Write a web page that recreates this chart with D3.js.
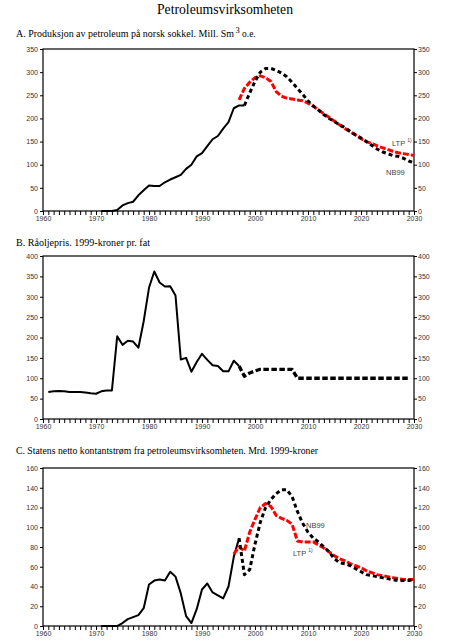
<!DOCTYPE html>
<html>
<head>
<meta charset="utf-8">
<script src="https://cdn.jsdelivr.net/npm/d3@7"></script>
<style>
  body { margin: 0; background: #fff; }
  .tick text { font-family: "Liberation Sans", Arial, sans-serif; font-size: 7px; fill: #333; }
  .ttl { font-family: "Liberation Serif", "Times New Roman", serif; fill: #000; }
  .lbl { font-family: "Liberation Sans", Arial, sans-serif; font-size: 7.5px; fill: #444; }
</style>
</head>
<body>
<svg id="chart" width="462" height="640"></svg>
<script>
// A: produksjon, mill. Sm3 o.e.
var prodYears = d3.range(1971, 1999);
var prodHist = [0, 0, 0, 2, 12, 17, 20, 34, 45, 55, 54, 54, 62, 68, 73, 78, 91, 100, 118, 125, 140, 155, 162, 178, 192, 222, 228, 228];
var prodNBYears = d3.range(1998, 2031);
var prodNB99 = [228, 255, 280, 300, 308, 308, 304, 298, 290, 278, 265, 252, 238, 227, 218, 208, 200, 193, 186, 180, 172, 164, 158, 150, 142, 134, 128, 124, 120, 118, 114, 108, 104];
var prodLTPYears = d3.range(1997, 2031);
var prodLTP = [240, 265, 278, 288, 292, 288, 280, 258, 248, 244, 242, 240, 238, 233, 226, 218, 210, 202, 194, 186, 178, 171, 164, 156, 150, 146, 141, 137, 133, 129, 126, 124, 122, 120];

// B: råoljepris, 1999-kroner pr. fat
var priceYears = d3.range(1961, 1998);
var priceHist = [66, 68, 69, 68, 66, 66, 66, 65, 63, 62, 68, 70, 70, 203, 182, 192, 190, 175, 240, 322, 362, 335, 325, 326, 303, 146, 150, 116, 140, 160, 145, 132, 130, 117, 117, 143, 130];
var priceFutYears = d3.range(1997, 2030);
var priceFut = [130, 105, 113, 118, 122, 122, 122, 122, 122, 122, 122, 100, 100, 100, 100, 100, 100, 100, 100, 100, 100, 100, 100, 100, 100, 100, 100, 100, 100, 100, 100, 100, 100];

// C: statens netto kontantstrøm, mrd. 1999-kroner
var cashYears = d3.range(1971, 1998);
var cashHist = [0, 0, 0, 0, 3, 7, 9, 11, 18, 42, 46, 47, 46, 55, 50, 33, 10, 3, 17, 37, 43, 34, 31, 28, 40, 70, 89];
var cashNBYears = d3.range(1997, 2031);
var cashNB99 = [89, 52, 57, 83, 105, 120, 128, 134, 138, 138, 131, 116, 104, 95, 89, 85, 80, 75, 68, 64, 63, 61, 58, 55, 52, 51, 50, 49, 48, 47, 46, 46, 46, 47];
var cashLTPYears = d3.range(1996, 2031);
var cashLTP = [73, 80, 76, 95, 108, 120, 124, 121, 112, 109, 107, 103, 86, 85, 85, 85, 82, 79, 75, 71, 68, 66, 63, 61, 59, 56, 54, 52, 51, 50, 49, 48, 47, 47, 47];

var svg = d3.select("#chart");
var x0 = 43, x1 = 414;

svg.append("text").attr("class", "ttl").attr("x", 157).attr("y", 14)
  .attr("textLength", 136).attr("lengthAdjust", "spacingAndGlyphs")
  .style("font-size", "14.5px").text("Petroleumsvirksomheten");

function subtitle(y, w, txt) {
  svg.append("text").attr("class", "ttl").attr("x", 16).attr("y", y).style("font-size", "10px")
    .attr("textLength", w).attr("lengthAdjust", "spacingAndGlyphs").text(txt);
}
subtitle(37, 218, "A.  Produksjon av petroleum på norsk sokkel. Mill. Sm");
svg.append("text").attr("class", "ttl").attr("x", 235.5).attr("y", 33).style("font-size", "8.5px").text("3");
svg.append("text").attr("class", "ttl").attr("x", 242).attr("y", 37).style("font-size", "9.5px").text("o.e.");
subtitle(246, 134, "B.  Råoljepris. 1999-kroner pr. fat");
subtitle(454, 302, "C.  Statens netto kontantstrøm fra petroleumsvirksomheten. Mrd. 1999-kroner");

function panel(top, bottom, ymax, ystep) {
  var x = d3.scaleLinear().domain([1960, 2030]).range([x0, x1]);
  var y = d3.scaleLinear().domain([0, ymax]).range([bottom, top]);
  var g = svg.append("g");
  var yt = d3.range(0, ymax + 1, ystep);
  g.append("g").attr("transform", "translate(" + x0 + ",0)")
    .call(d3.axisLeft(y).tickValues(yt).tickSize(3).tickPadding(2))
    .call(function(a) { a.select(".domain").remove(); });
  g.append("g").attr("transform", "translate(" + x1 + ",0)")
    .call(d3.axisRight(y).tickValues(yt).tickSize(3).tickPadding(1))
    .call(function(a) { a.select(".domain").remove(); });
  g.append("g").attr("transform", "translate(0," + bottom + ")")
    .call(d3.axisBottom(x).tickValues(d3.range(1960, 2031)).tickSize(4).tickPadding(1)
      .tickFormat(function(d) { return d % 10 === 0 ? d : ""; }))
    .call(function(a) { a.select(".domain").remove(); });
  g.selectAll(".tick line").attr("stroke", "#000").attr("stroke-width", 1);
  g.append("rect").attr("x", x0).attr("y", top).attr("width", x1 - x0).attr("height", bottom - top)
    .attr("fill", "none").attr("stroke", "#000").attr("stroke-width", 1.2);
  return {x: x, y: y, g: g};
}

function series(p, yrs, vals, style) {
  var line = d3.line().x(function(d, i) { return p.x(yrs[i]); }).y(function(d) { return p.y(d); });
  var path = p.g.append("path").datum(vals).attr("d", line).attr("fill", "none")
    .attr("stroke-linejoin", "round");
  if (style === "solid") path.attr("stroke", "#000").attr("stroke-width", 2);
  if (style === "nb") path.attr("stroke", "#000").attr("stroke-width", 3).attr("stroke-dasharray", "4,3");
  if (style === "wide") path.attr("stroke", "#000").attr("stroke-width", 3.3).attr("stroke-dasharray", "5.5,2.5");
  if (style === "ltp") path.attr("stroke", "#f00").attr("stroke-width", 3).attr("stroke-dasharray", "6,2");
}

function label(p, px, py, txt, sup) {
  var t = p.g.append("text").attr("class", "lbl").attr("x", px).attr("y", py).text(txt);
  if (sup) t.append("tspan").attr("dy", -4).attr("dx", 2).style("font-size", "5px").text(sup);
}

// A
var pa = panel(49, 211, 350, 50);
series(pa, prodYears, prodHist, "solid");
series(pa, prodLTPYears, prodLTP, "ltp");
series(pa, prodNBYears, prodNB99, "nb");
label(pa, 392, 146, "LTP", "1)");
label(pa, 386, 175, "NB99");

// B
var pb = panel(256, 419, 400, 50);
series(pb, priceYears, priceHist, "solid");
series(pb, priceFutYears, priceFut, "wide");

// C
var pc = panel(468, 626, 160, 20);
series(pc, cashYears, cashHist, "solid");
series(pc, cashLTPYears, cashLTP, "ltp");
series(pc, cashNBYears, cashNB99, "nb");
label(pc, 306, 528, "NB99");
label(pc, 293, 556, "LTP", "1)");
</script>
</body>
</html>
